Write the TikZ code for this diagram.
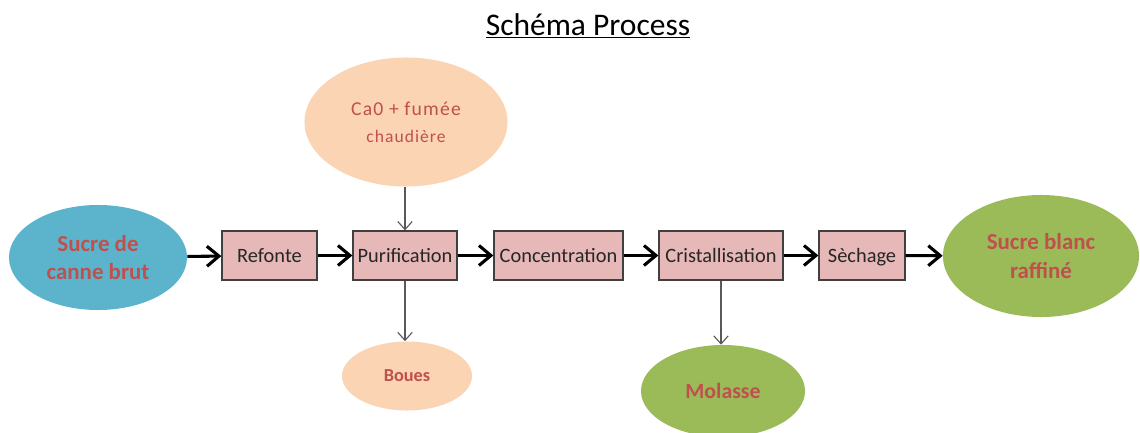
\documentclass[tikz,border=0pt]{standalone}
\usepackage{fontspec}
\usetikzlibrary{shapes.geometric, arrows.meta}
\setmainfont{Carlito}
\newfontfamily\spacedfont[LetterSpace=6]{Carlito}
\definecolor{blueell}{RGB}{91,180,204}
\definecolor{peachell}{RGB}{251,212,180}
\definecolor{greenell}{RGB}{155,187,89}
\definecolor{boxfill}{RGB}{230,185,184}
\definecolor{redtxt}{RGB}{192,80,77}
\begin{document}
\begin{tikzpicture}[x=0.025cm, y=-0.025cm]
      \tikzstyle{STY1} = [draw=black!75, fill=boxfill, line width=0.9pt, rectangle, minimum height=1.225cm, inner sep=0pt, text height=13pt, text depth=2.4pt, text=black!85, font=\fontsize{14.5}{16}\selectfont]
      \tikzstyle{STY2} = [-{Straight Barb[length=3mm, width=5mm]}, line width=2.2pt]
      \tikzstyle{STY3} = [-{Straight Barb[length=2mm, width=3.6mm]}, draw=black!65, line width=0.8pt]
      \tikzstyle{STY4} = [draw=none, ellipse, inner sep=0pt, text=redtxt, align=center]

      \useasboundingbox (0,0) rectangle (1140,433);

      %%%%% TITLE

      \node[font=\fontsize{22.4}{26}\selectfont](v0) at (588, 26) {\underline{Schéma Process}};

      %%%%% VERTEX

      \node[STY4, fill=blueell, minimum width=4.45cm, minimum height=2.625cm, font=\bfseries\fontsize{16.3}{19.5}\selectfont](v1) at (98, 257.5) {Sucre de\\canne brut};

      \node[STY1, minimum width=2.375cm](v2) at (269.5, 255.5) {Refonte};
      \node[STY1, minimum width=2.6cm](v3) at (405, 255.5) {Purification};
      \node[STY1, minimum width=3.225cm](v4) at (558.5, 255.5) {Concentration};
      \node[STY1, minimum width=3.1cm](v5) at (721, 255.5) {Cristallisation};
      \node[STY1, minimum width=2.15cm](v6) at (862, 255.5) {Sèchage};

      \node[STY4, fill=greenell, minimum width=4.9cm, minimum height=3.05cm, font=\bfseries\fontsize{16.3}{20}\selectfont](v7) at (1041, 256) {Sucre blanc\\raffiné};

      \node[STY4, fill=peachell, minimum width=5.075cm, minimum height=3.225cm, font=\spacedfont\fontsize{14}{19}\selectfont](v8) at (406, 122) {Ca0 + fumée\\{\fontsize{12.5}{19}\selectfont chaudière}};
      \node[STY4, fill=peachell, minimum width=3.25cm, minimum height=1.725cm, font=\bfseries\fontsize{13}{15}\selectfont](v9) at (407, 376) {Boues};
      \node[STY4, fill=greenell, minimum width=4.1cm, minimum height=2.3cm, font=\bfseries\fontsize{15.5}{19}\selectfont](v10) at (723, 391) {Molasse};

      %%%%% EDGES

      \draw[STY2]  (v1) -- (v2);
      \draw[STY2]  (v2) -- (v3);
      \draw[STY2]  (v3) -- (v4);
      \draw[STY2]  (v4) -- (v5);
      \draw[STY2]  (v5) -- (v6);
      \draw[STY2]  (v6) -- (v7);

      \draw[STY3]  (v8.south -| v3) -- (v3.north);
      \draw[STY3]  (v3.south) -- (v3.south |- v9.north);
      \draw[STY3]  (v5.south) -- (v5.south |- v10.north);
    \end{tikzpicture}
\end{document}
